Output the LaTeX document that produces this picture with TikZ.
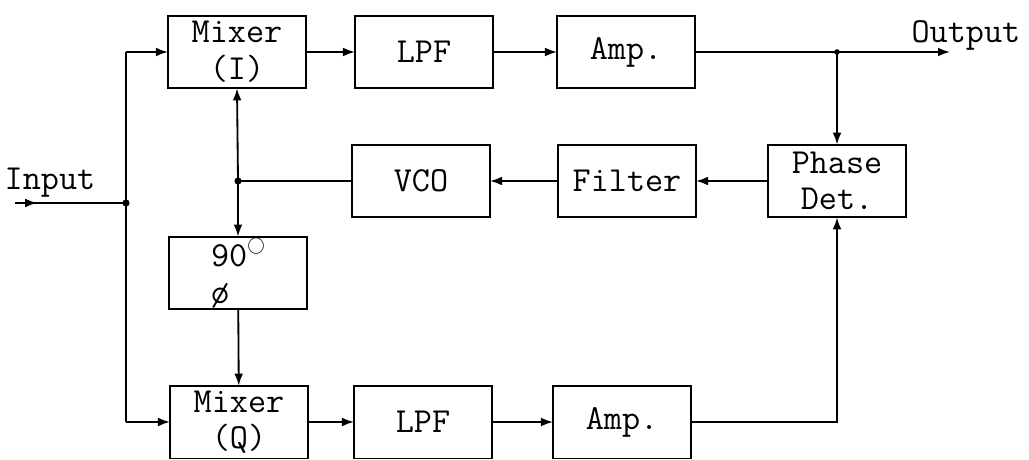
\documentclass[tikz,border=0pt]{standalone}
\usepackage{tikz}
\usetikzlibrary{arrows.meta, decorations.markings}

\begin{document}
\begin{tikzpicture}[
  x=0.025cm, y=-0.025cm,
  line width=1.3pt,
  font=\fontsize{25}{26}\selectfont\ttfamily,
  blk/.style={draw, align=center, inner sep=0pt, outer sep=0pt,
              minimum width=3.45cm, minimum height=1.82cm},
  dot/.style={circle, fill, inner sep=0pt, minimum size=1.8mm},
  midtip/.style={postaction={decorate}, decoration={markings,
                 mark=at position #1 with {\arrow{>}}}},
  >={Latex[length=3mm, width=2.2mm]}
]
\useasboundingbox (0,0) rectangle (1029,459);

\node[blk] (mixI) at (237,52)  {Mixer\\(I)};
\node[blk] (lpfI) at (424,52)  {LPF};
\node[blk] (ampI) at (626,52)  {Amp.};
\node[blk] (vco)  at (421,181) {VCO};
\node[blk] (fil)  at (627,181) {Filter};
\node[blk] (phd)  at (837,181) {Phase\\Det.};
\node[blk, align=left] (ph90) at (238,273)
  {90\raisebox{1.1ex}{\scalebox{0.5}{$\bigcirc$}}\\ø};
\node[blk] (mixQ) at (239,422) {Mixer\\(Q)};
\node[blk] (lpfQ) at (423,422) {LPF};
\node[blk] (ampQ) at (622,422) {Amp.};

\node (intxt) at (50,183) {Input};
\node[anchor=west] (outtxt) at (906,35) {Output};

\coordinate (inL)  at (15,203);
\coordinate (jin)  at (126,203);
\coordinate (jtop) at (126,52);
\coordinate (jbot) at (126,422);
\coordinate (jloc) at (238,181);
\coordinate (jout) at (837,52);
\coordinate (outR) at (950,52);

\node[dot] at (jin) {};
\node[dot] at (jloc) {};
\node[dot, minimum size=1.4mm] at (jout) {};

\draw[midtip=0.2] (inL) -- (jin);
\draw (jtop) -- (jbot);
\draw[->] (jtop) -- (mixI.west);
\draw[->] (jbot) -- (mixQ.west);

\draw[->] (mixI) -- (lpfI);
\draw[->] (lpfI) -- (ampI);
\draw (ampI) -- (jout);
\draw[->] (jout) -- (outR);
\draw[->] (jout) -- (phd.north);

\draw[->] (phd) -- (fil);
\draw[->] (fil) -- (vco);
\draw (vco) -- (jloc);
\draw[->] (jloc) -- (mixI.south);
\draw[->] (jloc) -- (ph90.north);
\draw[->] (ph90) -- (mixQ);

\draw[->] (mixQ) -- (lpfQ);
\draw[->] (lpfQ) -- (ampQ);
\draw[->] (ampQ.east) -| (phd.south);
\end{tikzpicture}
\end{document}
